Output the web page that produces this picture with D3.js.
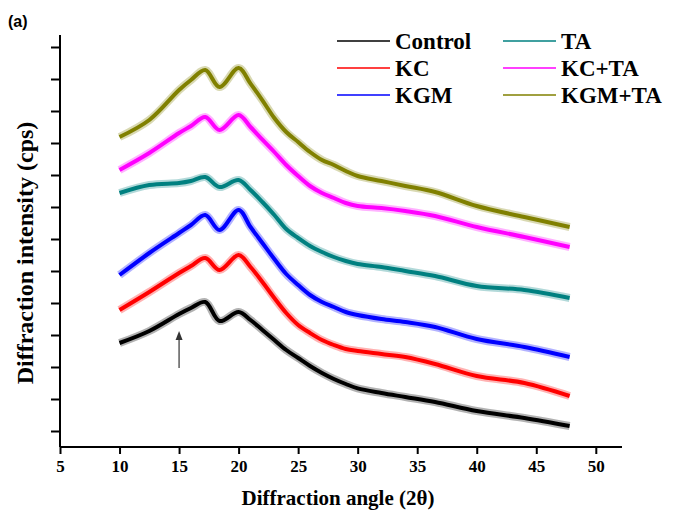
<!DOCTYPE html>
<html>
<head>
<meta charset="utf-8">
<script src="https://cdn.jsdelivr.net/npm/d3@7/dist/d3.min.js"></script>
<style>
  html, body { margin: 0; padding: 0; background: #fff; }
  svg { display: block; }
</style>
</head>
<body>
<svg id="chart" width="673" height="517"></svg>
<script>
// ---- data ----
const angles = [10, 12.5, 15, 16, 17.2, 18.4, 20, 21, 22, 23, 24, 25, 26, 27, 28, 29, 30, 32, 34, 36.5, 40, 44, 47.8];
const seriesNames = ["Control", "KC", "KGM", "TA", "KC+TA", "KGM+TA"];
const seriesColors = ["#000000", "#ff0000", "#0000ff", "#008080", "#ff00ff", "#808000"];
const control = [312, 348, 399, 417, 435, 378, 405, 381, 351, 321, 291, 267, 243, 222, 204, 189, 176, 162, 150, 135, 108, 87, 63];
const kc      = [411, 465, 522, 543, 567, 531, 576, 540, 495, 447, 402, 366, 342, 321, 306, 294, 288, 279, 270, 249, 213, 192, 153];
const kgm     = [516, 582, 642, 666, 696, 651, 711, 660, 612, 564, 519, 486, 456, 435, 420, 405, 396, 384, 375, 360, 324, 300, 270];
const ta      = [762, 786, 792, 798, 810, 780, 801, 771, 735, 696, 654, 627, 603, 585, 570, 558, 549, 540, 528, 513, 483, 471, 447];
const kcta    = [831, 882, 942, 963, 990, 951, 996, 960, 922, 885, 846, 813, 783, 762, 747, 732, 723, 717, 708, 693, 660, 630, 600];
const kgmta   = [930, 981, 1071, 1101, 1131, 1080, 1137, 1090, 1040, 987, 945, 915, 885, 861, 846, 828, 813, 798, 783, 765, 723, 690, 660];
const seriesValues = [control, kc, kgm, ta, kcta, kgmta];
const xTicks = [5, 10, 15, 20, 25, 30, 35, 40, 45, 50];
const yTicks = [48, 144, 240, 336, 432, 528, 624, 720, 816, 912, 1008, 1104, 1200];
const arrowMark = { angle: 15, from: 237, to: 348 };
const panelLabel = "(a)";
const xTitle = "Diffraction angle (2θ)";
const yTitle = "Diffraction intensity (cps)";

// ---- layout ----
const svg = d3.select("#chart");
const mLeft = 60, mRight = 622, mTop = 35, mBottom = 447;
const x = d3.scaleLinear().domain([5, 52.2]).range([mLeft, mRight]);
const y = d3.scaleLinear().domain([0, 1236]).range([mBottom, mTop]);
const serif = "'Liberation Serif', 'Times New Roman', serif";

// series lines
const line = d3.line()
  .x(d => x(d[0]))
  .y(d => y(d[1]))
  .curve(d3.curveCatmullRom.alpha(0.5));

seriesValues.forEach((vals, i) => {
  const pts = angles.map((a, j) => [a, vals[j]]);
  svg.append("path")
    .datum(pts)
    .attr("fill", "none")
    .attr("stroke", seriesColors[i])
    .attr("stroke-width", 8)
    .attr("stroke-opacity", 0.3)
    .attr("d", line);
  svg.append("path")
    .datum(pts)
    .attr("fill", "none")
    .attr("stroke", seriesColors[i])
    .attr("stroke-width", 4)
    .attr("d", line);
});

// axes
const xAxis = d3.axisBottom(x).tickValues(xTicks).tickSize(7).tickSizeOuter(0).tickPadding(6);
const gx = svg.append("g").attr("transform", `translate(0,${mBottom})`).call(xAxis);
gx.attr("font-family", null).attr("font-size", null);
gx.select(".domain").attr("stroke-width", 2).attr("d", `M${mLeft},0H${mRight}`);
gx.selectAll(".tick line").attr("stroke-width", 2);
gx.selectAll(".tick text")
  .style("font-family", serif).style("font-weight", "bold").style("font-size", "17px").attr("fill", "#000");

const yAxis = d3.axisLeft(y).tickValues(yTicks).tickSize(9).tickSizeOuter(0).tickFormat("");
const gy = svg.append("g").attr("transform", `translate(${mLeft},0)`).call(yAxis);
gy.select(".domain").attr("stroke-width", 2).attr("d", `M0,${mTop}V${mBottom}`);
gy.selectAll(".tick line").attr("stroke-width", 2);

// axis titles
svg.append("text")
  .attr("x", 338).attr("y", 505)
  .attr("text-anchor", "middle")
  .attr("font-family", serif).attr("font-weight", "bold").attr("font-size", 21)
  .text(xTitle);
svg.append("text")
  .attr("transform", `translate(33,253) rotate(-90)`)
  .attr("text-anchor", "middle")
  .attr("font-family", serif).attr("font-weight", "bold").attr("font-size", 24)
  .text(yTitle);

// panel label
svg.append("text")
  .attr("x", 8).attr("y", 27)
  .attr("font-family", "'Liberation Sans', Arial, sans-serif").attr("font-weight", "bold").attr("font-size", 16)
  .text(panelLabel);

// arrow
const ax = x(arrowMark.angle);
svg.append("line")
  .attr("x1", ax).attr("x2", ax)
  .attr("y1", y(arrowMark.from)).attr("y2", y(arrowMark.to) + 6)
  .attr("stroke", "#333").attr("stroke-width", 1.2);
svg.append("path")
  .attr("d", `M${ax},${y(arrowMark.to)} L${ax - 3.5},${y(arrowMark.to) + 9} L${ax + 3.5},${y(arrowMark.to) + 9} Z`)
  .attr("fill", "#333");

// legend
const legCols = [337, 503];
const legRows = [41, 68, 95];
seriesNames.forEach((name, i) => {
  const cx = legCols[Math.floor(i / 3)];
  const cy = legRows[i % 3];
  const g = svg.append("g");
  g.append("line")
    .attr("x1", cx).attr("x2", cx + 53)
    .attr("y1", cy).attr("y2", cy)
    .attr("stroke", seriesColors[i]).attr("stroke-width", 1.6);
  g.append("text")
    .attr("x", cx + 58).attr("y", cy + 8)
    .attr("font-family", serif).attr("font-weight", "bold").attr("font-size", 23)
    .text(name);
});
</script>
</body>
</html>
